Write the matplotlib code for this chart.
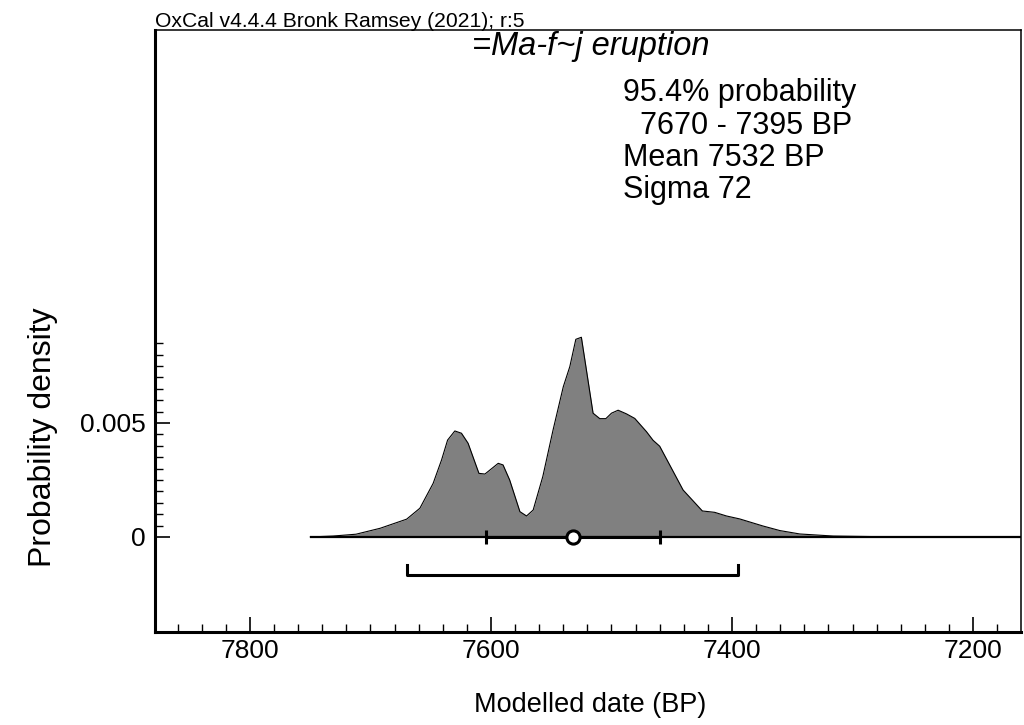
import matplotlib
matplotlib.use("Agg")
import matplotlib.pyplot as plt
from matplotlib.ticker import MultipleLocator, FixedLocator

plt.rcParams['font.family'] = ['Liberation Sans', 'DejaVu Sans']

# posterior density (calendar BP, probability density)
years = [7750, 7731, 7712, 7692, 7670, 7659, 7648, 7641, 7636, 7630, 7624.5, 7619,
         7610, 7605, 7594, 7590, 7584.5, 7576, 7570.5, 7565, 7557, 7548.5, 7540,
         7534.6, 7529.6, 7525, 7520.8, 7515.3, 7509.7, 7504.7, 7500, 7494.5, 7487.6,
         7480.7, 7471, 7465.5, 7460, 7440.6, 7424.6, 7414.4, 7404.6, 7393.6, 7374.3,
         7360.3, 7343.7, 7316, 7275, 7250]
density = [0, 0.00004, 0.00012, 0.00038, 0.00078, 0.00126, 0.00235, 0.00338, 0.00425,
           0.00465, 0.00455, 0.00411, 0.00279, 0.00276, 0.00323, 0.00316, 0.0025,
           0.00111, 0.00092, 0.00118, 0.00265, 0.00469, 0.00659, 0.00747, 0.00867,
           0.00876, 0.00732, 0.00543, 0.00519, 0.00519, 0.00543, 0.00556, 0.0054,
           0.0052, 0.00462, 0.00424, 0.00398, 0.00206, 0.00114, 0.00108, 0.00092,
           0.00079, 0.00048, 0.00028, 0.00013, 0.00004, 0.00001, 0]

mean_bp = 7532
sigma = 72
range_954 = [7670, 7395]

title = "=Ma-f~j eruption"
info_lines = ["95.4% probability", "  7670 - 7395 BP", "Mean 7532 BP", "Sigma 72"]
header = "OxCal v4.4.4 Bronk Ramsey (2021); r:5"

fig = plt.figure(figsize=(10.24, 7.25), dpi=100)
ax = fig.add_axes([155 / 1024, 93 / 725, 866 / 1024, 602 / 725])

ax.fill_between(years, density, 0, color="#808080", linewidth=0)
ax.plot(years, density, color="black", linewidth=0.8)
ax.hlines(0, years[0], 7160, color="black", linewidth=1.6)

# mean +- sigma bar with the mean as an open circle
ax.errorbar([mean_bp], [0], xerr=[sigma], fmt="none", ecolor="black",
            elinewidth=2.2, capsize=5, capthick=2.2)
ax.plot([mean_bp], [0], "o", markersize=9.5, markerfacecolor="white",
        markeredgecolor="black", markeredgewidth=2.2)

# 95.4% range bracket
ax.plot([range_954[0], range_954[0], range_954[1], range_954[1]],
        [-0.00125, -0.00167, -0.00167, -0.00125], color="black", linewidth=2.2)

ax.set_xlim(7878.8, 7160.2)
ax.set_ylim(-0.00417, 0.02224)

ax.xaxis.set_major_locator(FixedLocator([7800, 7600, 7400, 7200]))
ax.xaxis.set_minor_locator(MultipleLocator(20))
ax.yaxis.set_major_locator(FixedLocator([0, 0.005]))
ax.yaxis.set_minor_locator(FixedLocator([i * 0.0005 for i in range(1, 18)]))
ax.set_yticklabels(["0", "0.005"])
ax.tick_params(which="both", direction="in", top=False, right=False, labelsize=19)
ax.tick_params(which="major", length=11, width=1.2)
ax.tick_params(which="minor", length=5.5, width=1)
ax.tick_params(axis="x", pad=5)
ax.tick_params(axis="y", pad=7)

ax.spines["left"].set_linewidth(2.2)
ax.spines["bottom"].set_linewidth(2.2)
ax.spines["top"].set_linewidth(1.1)
ax.spines["right"].set_linewidth(1.1)

fig.text(43 / 1024, 1 - 437 / 725, "Probability density", rotation=90,
         ha="center", va="center", fontsize=23)
fig.text(590 / 1024, 1 - 705 / 725, "Modelled date (BP)", ha="center", va="center",
         fontsize=19.5)

fig.text(155 / 1024, 1 - 27 / 725, header, ha="left", va="baseline", fontsize=15.2)
fig.text(472 / 1024, 1 - 55 / 725, title, ha="left", va="baseline", fontsize=23.5,
         style="italic")
for i, line in enumerate(info_lines):
    fig.text(623 / 1024, 1 - (101.5 + 32.3 * i) / 725, line, ha="left",
             va="baseline", fontsize=22)

fig.savefig("out.png", dpi=100)
